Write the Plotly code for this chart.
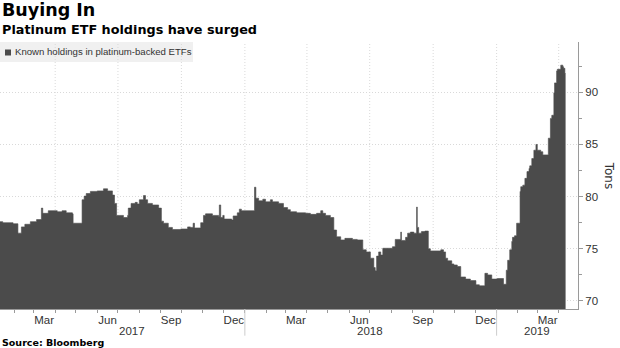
import plotly.graph_objects as go

# ---- data ----
dates = [
    "2017-01-01", "2017-01-15", "2017-01-30", "2017-02-06", "2017-02-11", "2017-02-16",
    "2017-02-24", "2017-03-05", "2017-03-12", "2017-03-14", "2017-03-22", "2017-04-04",
    "2017-04-11", "2017-04-17", "2017-04-26", "2017-04-27", "2017-05-10", "2017-05-13",
    "2017-05-16", "2017-05-22", "2017-06-01", "2017-06-10", "2017-06-16", "2017-06-23",
    "2017-06-26", "2017-06-29", "2017-07-09", "2017-07-15", "2017-07-16", "2017-07-20",
    "2017-07-26", "2017-07-29", "2017-08-01", "2017-08-07", "2017-08-10", "2017-08-13",
    "2017-08-20", "2017-08-29", "2017-09-02", "2017-09-05", "2017-09-12", "2017-09-18",
    "2017-09-30", "2017-10-10", "2017-10-14", "2017-10-18", "2017-10-20", "2017-10-29",
    "2017-11-02", "2017-11-05", "2017-11-15", "2017-11-24", "2017-11-25", "2017-11-27",
    "2017-11-30", "2017-12-02", "2017-12-13", "2017-12-15", "2017-12-21", "2017-12-24",
    "2017-12-27", "2018-01-15", "2018-01-17", "2018-01-21", "2018-01-27", "2018-01-31",
    "2018-02-07", "2018-02-10", "2018-02-19", "2018-02-26", "2018-03-04", "2018-03-08",
    "2018-03-17", "2018-03-30", "2018-04-06", "2018-04-15", "2018-04-21", "2018-04-24",
    "2018-04-28", "2018-05-05", "2018-05-10", "2018-05-14", "2018-05-20", "2018-05-26",
    "2018-06-06", "2018-06-13", "2018-06-21", "2018-06-26", "2018-07-02", "2018-07-07",
    "2018-07-09", "2018-07-11", "2018-07-14", "2018-07-17", "2018-07-20", "2018-08-03",
    "2018-08-07", "2018-08-15", "2018-08-16", "2018-08-22", "2018-08-25", "2018-08-29",
    "2018-09-03", "2018-09-07", "2018-09-08", "2018-09-10", "2018-09-14", "2018-09-19",
    "2018-09-24", "2018-09-27", "2018-10-12", "2018-10-16", "2018-10-19", "2018-10-22",
    "2018-10-28", "2018-10-31", "2018-11-05", "2018-11-10", "2018-11-17", "2018-11-24",
    "2018-12-02", "2018-12-07", "2018-12-15", "2018-12-19", "2018-12-25", "2019-01-02",
    "2019-01-11", "2019-01-15", "2019-01-17", "2019-01-20", "2019-01-23", "2019-01-24",
    "2019-01-27", "2019-01-30", "2019-02-04", "2019-02-05", "2019-02-08", "2019-02-11",
    "2019-02-14", "2019-02-17", "2019-02-18", "2019-02-21", "2019-02-24", "2019-02-27",
    "2019-03-01", "2019-03-06", "2019-03-09", "2019-03-17", "2019-03-20", "2019-03-22",
    "2019-03-25", "2019-03-26", "2019-03-29", "2019-03-30", "2019-04-04", "2019-04-07",
    "2019-04-08", "2019-04-10", "2019-04-11",
]
holdings_tons = [
    77.6, 77.5, 77.4, 76.5, 77.1, 77.35,
    77.6, 77.8, 78.9, 78.4, 78.65, 78.55,
    78.65, 78.45, 78.35, 77.45, 79.7, 80.05,
    80.3, 80.5, 80.55, 80.75, 80.55, 80.15,
    79.35, 78.2, 78.0, 78.2, 78.9, 79.35,
    79.45, 79.3, 79.7, 80.1, 79.7, 79.35,
    79.2, 78.9, 77.65, 77.45, 77.05, 76.85,
    76.9, 77.1, 77.05, 77.45, 77.0, 77.5,
    78.2, 78.35, 78.2, 78.1, 79.2, 78.0,
    78.2, 77.85, 77.75, 78.15, 78.45, 78.8,
    78.65, 80.9, 79.85, 79.6, 79.75, 79.5,
    79.7, 79.5, 79.35, 78.95, 78.75, 78.55,
    78.45, 78.4, 78.3, 78.4, 78.65, 78.4,
    78.2, 78.0, 76.8, 76.15, 75.85, 76.0,
    75.9, 75.85, 74.9, 74.7, 74.1, 73.2,
    72.9, 74.3, 74.7, 74.4, 75.05, 75.2,
    75.9, 76.6, 75.8, 76.1, 76.5, 76.6,
    76.5, 79.0, 77.05, 76.5, 76.65, 76.7,
    75.0, 74.8, 74.9, 74.7, 74.1, 73.85,
    73.55, 73.45, 73.3, 72.3, 72.1, 71.95,
    71.55, 71.45, 72.65, 72.5, 72.1, 72.15,
    71.6, 72.95, 73.9, 74.9, 75.7, 76.1,
    76.25, 77.45, 80.5, 80.95, 81.1, 81.75,
    82.4, 82.7, 82.95, 83.65, 84.45, 85.0,
    84.45, 84.3, 84.0, 85.6, 87.5, 87.8,
    89.95, 90.9, 92.05, 92.2, 92.6, 92.45,
    92.3, 91.8, 91.8,
]

month_tick_dates = ["2017-03-16", "2017-06-16", "2017-09-16", "2017-12-16",
                    "2018-03-16", "2018-06-16", "2018-09-16", "2018-12-16",
                    "2019-03-16"]
month_tick_text = ["Mar", "Jun", "Sep", "Dec", "Mar", "Jun", "Sep", "Dec", "Mar"]

quarter_grid_dates = ["2017-04-01", "2017-07-01", "2017-10-01", "2018-01-01",
                      "2018-04-01", "2018-07-01", "2018-10-01", "2019-01-01",
                      "2019-04-01"]
year_separators = ["2018-01-01", "2019-01-01"]
year_labels = ["2017", "2018", "2019"]
year_label_dates = ["2017-07-22", "2018-07-02", "2019-02-28"]

x_range = ["2017-01-11", "2019-04-29"]
y_range = [69.23, 94.82]
y_ticks = [70, 75, 80, 85, 90]

BAR = "#4b4b4b"
GRID = "#d9d9d9"
AXIS = "#9a9a9a"
TXT = "#333333"
FONT = "DejaVu Sans"
DOT = "1px,2px"

fig = go.Figure()
fig.add_trace(go.Scatter(
    x=dates, y=holdings_tons, mode="lines",
    line=dict(shape="hv", width=0.6, color=BAR),
    fill="tozeroy", fillcolor=BAR, showlegend=False, hoverinfo="x+y",
))

shapes = []
# legend box
shapes.append(dict(type="rect", xref="paper", yref="paper",
                   x0=0, x1=193 / 578, y0=(309 - 62) / 267, y1=1,
                   fillcolor="#f0f0f0", line=dict(width=0), layer="below"))
# legend swatch
shapes.append(dict(type="rect", xref="paper", yref="paper",
                   x0=5 / 578, x1=11 / 578, y0=(309 - 55.5) / 267, y1=(309 - 49.5) / 267,
                   fillcolor=BAR, line=dict(width=0), layer="above"))
# vertical dotted grid lines at quarter starts
for d in quarter_grid_dates:
    shapes.append(dict(type="line", xref="x", yref="paper", x0=d, x1=d, y0=0, y1=1,
                       line=dict(color=GRID, width=1, dash=DOT), layer="below"))
# year separators below the axis
for d in year_separators:
    shapes.append(dict(type="line", xref="x", yref="paper", x0=d, x1=d, y0=0, y1=-0.1,
                       line=dict(color="#cccccc", width=1), layer="above"))

annotations = [
    dict(text="<b>Buying In</b>", xref="paper", yref="paper", x=0, y=1.118,
         xanchor="left", yanchor="middle", showarrow=False,
         font=dict(family=FONT, size=17.5, color="#000000")),
    dict(text="<b>Platinum ETF holdings have surged</b>", xref="paper", yref="paper",
         x=0, y=1.045, xanchor="left", yanchor="middle", showarrow=False,
         font=dict(family=FONT, size=12.8, color="#000000")),
    dict(text="Known holdings in platinum-backed ETFs",
         xref="paper", yref="paper", x=13 / 578, y=(309 - 52) / 267,
         xanchor="left", yanchor="middle", showarrow=False,
         font=dict(family="Liberation Sans", size=9.6, color=TXT)),
    dict(text="Tons", xref="paper", yref="paper", x=1.055, y=0.5, textangle=90,
         xanchor="center", yanchor="middle", showarrow=False,
         font=dict(family=FONT, size=12, color=TXT)),
    dict(text="<b>Source: Bloomberg</b>", xref="paper", yref="paper", x=0, y=-0.124,
         xanchor="left", yanchor="middle", showarrow=False,
         font=dict(family=FONT, size=9.5, color="#000000")),
]
for lbl, d in zip(year_labels, year_label_dates):
    annotations.append(dict(text=lbl, xref="x", yref="paper", x=d, y=-0.082,
                            xanchor="center", yanchor="middle", showarrow=False,
                            font=dict(family="Liberation Sans", size=11.5, color=TXT)))

fig.update_layout(
    width=620, height=348,
    margin=dict(l=0, r=42, t=42, b=39),
    paper_bgcolor="white", plot_bgcolor="white",
    shapes=shapes, annotations=annotations,
    font=dict(family="Liberation Sans", size=11.5, color=TXT),
    xaxis=dict(
        type="date", range=x_range, tickmode="array",
        tickvals=month_tick_dates, ticktext=month_tick_text,
        ticks="", showgrid=False, zeroline=False,
        showline=True, linecolor=AXIS, linewidth=1,
        tickfont=dict(family="Liberation Sans", size=11.5, color=TXT),
        minor=dict(tickmode="linear", tick0="2017-01-01", dtick="M1",
                   ticks="outside", ticklen=3, tickcolor=AXIS, showgrid=False),
    ),
    yaxis=dict(
        side="right", range=y_range, tickmode="array", tickvals=y_ticks,
        showgrid=True, gridcolor=GRID, griddash=DOT, gridwidth=1,
        zeroline=False, showline=True, linecolor=AXIS, linewidth=1,
        ticks="outside", ticklen=4, tickcolor=AXIS,
        tickfont=dict(family="Liberation Sans", size=11.5, color=TXT),
        minor=dict(tickmode="linear", tick0=70, dtick=2.5,
                   ticks="outside", ticklen=3, tickcolor=AXIS, showgrid=False),
    ),
)

fig.write_html("out.html")
